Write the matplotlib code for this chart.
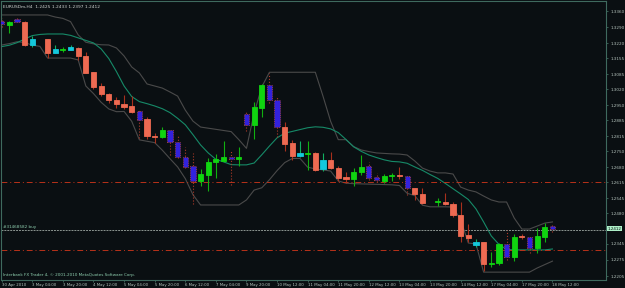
import matplotlib
matplotlib.use("Agg")
import matplotlib.pyplot as plt
import numpy as np

# --- data ---
opens = [1.3318, 1.3299, 1.3326, 1.3313, 1.3214, np.nan, 1.3238, 1.3179, 1.3193, 1.3191,
         1.3201, 1.3165, 1.3094, 1.3034, 1.3000, 1.2974, 1.2956, 1.2947, 1.2925, 1.2889,
         1.2816, 1.2810, 1.2842, 1.2791, 1.2726, 1.2685, 1.2620, 1.2646, 1.2704, 1.2708,
         1.2723, 1.2714, 1.2912, 1.2862, 1.2939, 1.3038, 1.2973, 1.2857, 1.2784, 1.2730,
         1.2738, 1.2743, 1.2671, 1.2711, 1.2678, 1.2636, 1.2628, 1.2659, 1.2685, 1.2638,
         1.2621, 1.2640, 1.2642, 1.2641, 1.2588, 1.2562, np.nan, 1.2528, 1.2529, 1.2518,
         1.2471, 1.2383, 1.2340, 1.2352, 1.2257, 1.2261, 1.2345, 1.2287, 1.2378, 1.2374,
         1.2326, 1.2377, 1.2425]
highs = [1.3331, 1.3318, 1.3331, 1.3318, 1.3252, np.nan, 1.3241, 1.3213, 1.3203, 1.3212,
         1.3206, 1.3181, 1.3095, 1.3046, 1.3003, 1.2987, 1.2993, 1.2990, 1.2929, 1.2898,
         1.2828, 1.2854, 1.2846, 1.2820, 1.2767, 1.2742, 1.2671, 1.2719, 1.2736, 1.2794,
         1.2755, 1.2767, 1.2925, 1.2966, 1.3043, 1.3092, 1.2985, 1.2877, 1.2799, 1.2795,
         1.2795, 1.2747, 1.2740, 1.2746, 1.2685, 1.2659, 1.2675, 1.2733, 1.2704, 1.2653,
         1.2650, 1.2653, 1.2679, 1.2646, 1.2590, 1.2590, np.nan, 1.2544, 1.2569, 1.2528,
         1.2528, 1.2432, 1.2365, 1.2355, 1.2311, 1.2349, 1.2406, 1.2388, 1.2388, 1.2380,
         1.2413, 1.2438, 1.2433]
lows = [1.3291, 1.3267, 1.3313, 1.3208, 1.3206, np.nan, 1.3155, 1.3177, 1.3184, 1.3189,
        1.3148, 1.3090, 1.3020, 1.2990, 1.2959, 1.2937, 1.2935, 1.2915, 1.2806, 1.2802,
        1.2784, 1.2807, 1.2733, 1.2720, 1.2676, 1.2518, 1.2598, 1.2577, 1.2631, 1.2704,
        1.2602, 1.2685, 1.2838, 1.2803, 1.2897, 1.2959, 1.2813, 1.2752, 1.2711, 1.2724,
        1.2668, 1.2663, 1.2665, 1.2672, 1.2621, 1.2611, 1.2598, 1.2646, 1.2624, 1.2615,
        1.2611, 1.2621, 1.2627, 1.2559, 1.2537, 1.2519, np.nan, 1.2511, 1.2515, 1.2464,
        1.2355, 1.2355, 1.2333, 1.2228, 1.2246, 1.2253, 1.2275, 1.2272, 1.2365, 1.2307,
        1.2307, 1.2355, 1.2397]
closes = [1.3303, 1.3313, 1.3315, 1.3214, 1.3238, np.nan, 1.3179, 1.3194, 1.3195, 1.3203,
          1.3165, 1.3092, 1.3031, 1.2999, 1.2973, 1.2956, 1.2944, 1.2922, 1.2884, 1.2816,
          1.2810, 1.2842, 1.2791, 1.2723, 1.2682, 1.2620, 1.2650, 1.2704, 1.2714, 1.2726,
          1.2714, 1.2723, 1.2864, 1.2944, 1.3038, 1.2973, 1.2857, 1.2781, 1.2730, 1.2743,
          1.2742, 1.2668, 1.2711, 1.2678, 1.2631, 1.2630, 1.2659, 1.2682, 1.2634, 1.2624,
          1.2641, 1.2642, 1.2640, 1.2590, 1.2562, 1.2522, np.nan, 1.2530, 1.2518, 1.2471,
          1.2381, 1.2372, 1.2352, 1.2257, 1.2263, 1.2345, 1.2289, 1.2374, 1.2376, 1.2326,
          1.2380, 1.2418, 1.2412]
# candle colour state from the chart's indicator: g green, r salmon, b blue, c cyan, n none
kinds = "bgbrcnrcgcrrrrrrrrbrrgbbbbggggbgbggbbrrcgrcrrrggbbggrbrrngrrrrcrggbgrbggb"

# channel mid line (green) and upper / lower bands (gray), one value per bar
ma_line = [1.3206, 1.3212, 1.3223, 1.3239, 1.3254, 1.3259, 1.3261, 1.3261, 1.3261, 1.3255,
           1.3244, 1.3233, 1.3222, 1.3196, 1.3154, 1.3097, 1.3034, 1.2988, 1.2966, 1.2957,
           1.2947, 1.2935, 1.2918, 1.2893, 1.2865, 1.2822, 1.2777, 1.2742, 1.2714, 1.2703,
           1.2691, 1.2690, 1.2690, 1.2698, 1.2734, 1.2772, 1.2808, 1.2828, 1.2836, 1.2844,
           1.2852, 1.2856, 1.2854, 1.2847, 1.2831, 1.2801, 1.2769, 1.2749, 1.2733, 1.2722,
           1.2712, 1.2705, 1.2703, 1.2697, 1.2681, 1.2666, 1.2648, 1.2631, 1.2609, 1.2586,
           1.2563, 1.2539, 1.2498, 1.2441, 1.2380, 1.2343, 1.2321, 1.2319, 1.2319, 1.2319,
           1.2319, 1.2319, 1.2323]
upper = [1.3344, 1.3344, 1.3344, 1.3344, 1.3344, 1.3344, 1.3344, 1.3335, 1.3329, 1.3315,
         1.3257, 1.3225, 1.3218, 1.3214, 1.3213, 1.3200, 1.3165, 1.3117, 1.3091, 1.3043,
         1.3034, 1.3025, 1.3008, 1.2990, 1.2929, 1.2881, 1.2855, 1.2850, 1.2845, 1.2840,
         1.2835, 1.2800, 1.2762, 1.2916, 1.3030, 1.3094, 1.3094, 1.3094, 1.3094, 1.3094,
         1.3094, 1.3094, 1.2990, 1.2880, 1.2800, 1.2800, 1.2770, 1.2755, 1.2748, 1.2742,
         1.2740, 1.2738, 1.2737, 1.2733, 1.2707, 1.2676, 1.2663, 1.2655, 1.2655, 1.2650,
         1.2593, 1.2580, 1.2572, 1.2554, 1.2537, 1.2528, 1.2528, 1.2458, 1.2410, 1.2410,
         1.2423, 1.2436, 1.2441]
lower = [1.3213, 1.3219, 1.3227, 1.3224, 1.3212, 1.3207, 1.3156, 1.3156, 1.3156, 1.3156,
         1.3148, 1.3034, 1.3001, 1.2963, 1.2934, 1.2922, 1.2923, 1.2880, 1.2799, 1.2793,
         1.2787, 1.2754, 1.2717, 1.2681, 1.2630, 1.2560, 1.2515, 1.2515, 1.2515, 1.2515,
         1.2515, 1.2515, 1.2537, 1.2580, 1.2590, 1.2625, 1.2665, 1.2700, 1.2718, 1.2718,
         1.2680, 1.2672, 1.2668, 1.2663, 1.2620, 1.2610, 1.2608, 1.2607, 1.2606, 1.2605,
         1.2604, 1.2603, 1.2600, 1.2566, 1.2556, 1.2514, 1.2507, 1.2507, 1.2507, 1.2506,
         1.2450, 1.2349, 1.2345, 1.2222, 1.2222, 1.2222, 1.2222, 1.2222, 1.2222, 1.2222,
         1.2240, 1.2255, 1.2270]

time_labels = ["30 Apr 2010", "3 May 04:00", "3 May 20:00", "4 May 12:00", "5 May 04:00",
               "5 May 20:00", "6 May 12:00", "7 May 04:00", "9 May 20:00", "10 May 12:00",
               "11 May 04:00", "11 May 20:00", "12 May 12:00", "13 May 04:00", "13 May 20:00",
               "14 May 12:00", "17 May 04:00", "17 May 20:00", "18 May 12:00"]
price_ticks = [1.3360, 1.3290, 1.3220, 1.3155, 1.3085, 1.3020, 1.2950, 1.2885, 1.2815,
               1.2750, 1.2680, 1.2615, 1.2545, 1.2480, 1.2345, 1.2275, 1.2205]
take_profit = 1.2614
stop_loss = 1.2319
order_price = 1.2406
order_label = "#31468582 buy"
bid = 1.2412
header = "EURUSDm,H4  1.2425 1.2433 1.2397 1.2412"
copyright_txt = "Interbank FX Trader 4, \u00a9 2001-2010 MetaQuotes Software Corp."

BG = "#0a0f12"
FRAME = "#3f6a5e"
TXT = "#b4c2bc"
body_col = {"g": "#10d410", "r": "#ee6a52", "b": "#3322dd", "c": "#14c8dc"}
wick_col = {"g": "#10b010", "r": "#a8301c", "b": "#b03a28", "c": "#10b060"}

plt.rcParams['font.family'] = ['DejaVu Sans']
fig = plt.figure(figsize=(6.25, 2.88), dpi=100, facecolor=BG)
ax = fig.add_axes([1 / 625, 1 - 280 / 288, 605 / 625, 279 / 288], facecolor=BG)

n = len(closes)
xs = np.arange(n)

# indicator lines
ax.plot(xs, upper, color="#4a4a4a", lw=0.8, zorder=1)
ax.plot(xs, lower, color="#4a4a4a", lw=0.8, zorder=1)
ax.plot(xs, ma_line, color="#168a68", lw=0.8, zorder=1)

# order / level lines
ax.axhline(take_profit, color="#b8321a", lw=0.7, ls=(0, (6, 3, 1, 3)), zorder=2)
ax.axhline(stop_loss, color="#b8321a", lw=0.7, ls=(0, (6, 3, 1, 3)), zorder=2)
ax.axhline(order_price, color="#8c9590", lw=0.7, ls=(0, (2, 1)), zorder=2)

# candles
w = 0.68
for i in range(n):
    k = kinds[i]
    if k == "n":
        continue
    o, h, l, c = opens[i], highs[i], lows[i], closes[i]
    ls = ":" if k == "b" else "-"
    ax.vlines(i, l, h, color=wick_col[k], lw=0.8, ls=ls, zorder=3)
    lo, hi = min(o, c), max(o, c)
    hgt = max(hi - lo, 0.0004)
    ec = "#c04a3a" if k == "b" else body_col[k]
    ax.bar(i, hgt, bottom=lo, width=w, color=body_col[k], edgecolor=ec,
           lw=0.6, ls=ls, zorder=4)

ax.set_xlim(-0.09, 79.0)
ax.set_ylim(1.21877, 1.34049)

for s in ax.spines.values():
    s.set_color(FRAME)
    s.set_linewidth(0.8)

ax.yaxis.tick_right()
ax.set_yticks(price_ticks)
ax.set_yticklabels([f"{v:.4f}" for v in price_ticks])
ax.tick_params(axis="y", colors=FRAME, labelcolor=TXT, labelsize=3.0, length=1.5,
               width=0.6, pad=1.5)
ax.set_xticks(np.arange(0, n, 4)[:len(time_labels)])
ax.set_xticklabels(time_labels, ha="left")
ax.tick_params(axis="x", colors=FRAME, labelcolor=TXT, labelsize=2.8, length=1.5,
               width=0.6, pad=1.0)

# bid price box on the right scale
ax.text(1.003, bid, f"{bid:.4f}", transform=ax.get_yaxis_transform(), fontsize=3.0,
        color="#0a0f12", va="center", ha="left",
        bbox=dict(boxstyle="square,pad=0.15", fc="#aef0c8", ec="none"), clip_on=False)

ax.text(0.004, 0.985, header, transform=ax.transAxes, fontsize=3.2, color="#d0d4d2",
        va="top", ha="left")
ax.text(0.004, order_price + 0.0006, order_label, transform=ax.get_yaxis_transform(),
        fontsize=3.0, color="#8fd0b0", va="bottom", ha="left")
ax.text(0.004, 0.012, copyright_txt, transform=ax.transAxes, fontsize=3.0,
        color="#8fd0b0", va="bottom", ha="left")

fig.savefig("out.png", dpi=100, facecolor=BG)
